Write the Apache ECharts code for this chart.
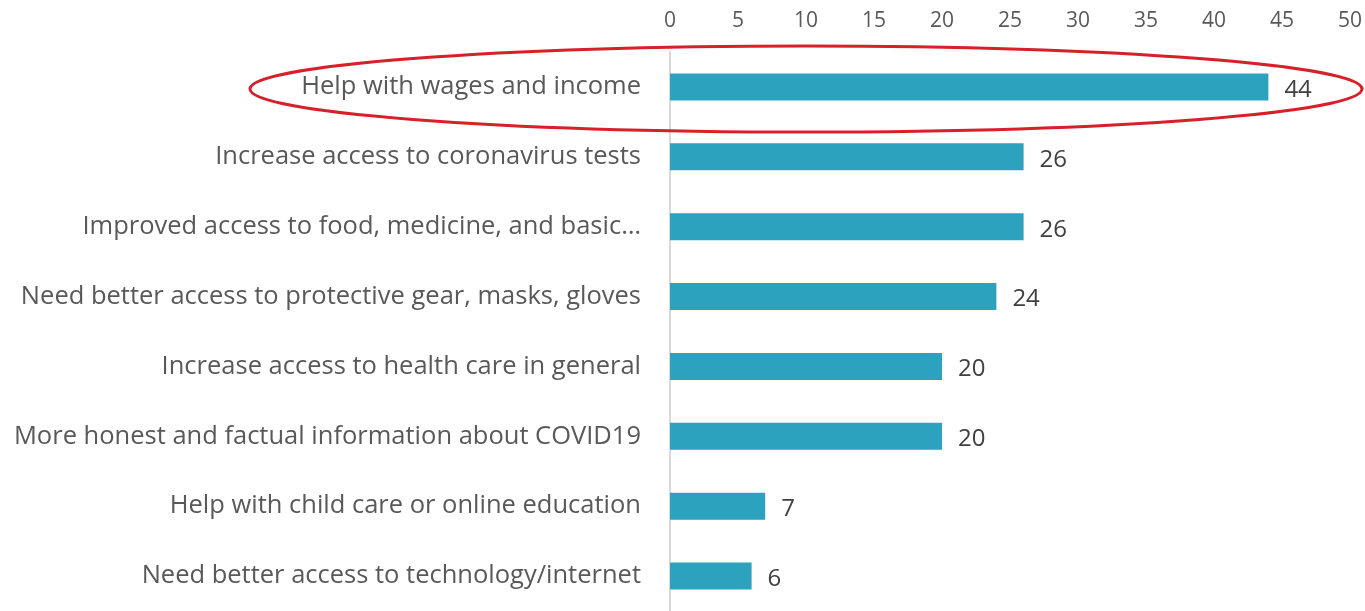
<!DOCTYPE html>
<html><head><meta charset="utf-8">
<script src="https://cdn.jsdelivr.net/npm/echarts@6/dist/echarts.min.js"></script>
<style>html,body{margin:0;padding:0;background:#fff}#c{width:1365px;height:611px}</style>
</head><body><div id="c"></div>
<script>
const categories = [
  "Help with wages and income",
  "Increase access to coronavirus tests",
  "Improved access to food, medicine, and basic…",
  "Need better access to protective gear, masks, gloves",
  "Increase access to health care in general",
  "More honest and factual information about COVID19",
  "Help with child care or online education",
  "Need better access to technology/internet"
];
const values = [44, 26, 26, 24, 20, 20, 7, 6];
const xTicks = [0, 5, 10, 15, 20, 25, 30, 35, 40, 45, 50];

const chart = echarts.init(document.getElementById('c'), null, {renderer: 'canvas'});
chart.setOption({
  animation: false,
  grid: {left: 670, right: 15, top: 52, bottom: -4, containLabel: false},
  xAxis: {
    type: 'value', position: 'top', min: xTicks[0], max: xTicks[xTicks.length-1], interval: 5,
    axisLine: {show: false}, axisTick: {show: false}, splitLine: {show: false},
    axisLabel: {color: '#595959', fontSize: 21, fontFamily: 'Open Sans', margin: 20}
  },
  yAxis: {
    type: 'category', inverse: true, data: categories,
    axisLine: {show: true, lineStyle: {color: '#d9d9d9', width: 2}},
    axisTick: {show: false},
    axisLabel: {color: '#595959', fontSize: 25.5, fontFamily: 'Open Sans', margin: 29}
  },
  series: [{
    type: 'bar', data: values, barWidth: 27,
    itemStyle: {color: '#2ca2bf'},
    label: {show: true, position: 'right', distance: 16, offset: [0, 3], color: '#404040', fontSize: 24, fontFamily: 'Open Sans'}
  }],
  graphic: [{
    type: 'ellipse', silent: true, z: 100,
    shape: {cx: 806, cy: 89, rx: 556, ry: 43},
    style: {fill: 'none', stroke: '#d7202a', lineWidth: 3}
  }]
});
</script></body></html>
